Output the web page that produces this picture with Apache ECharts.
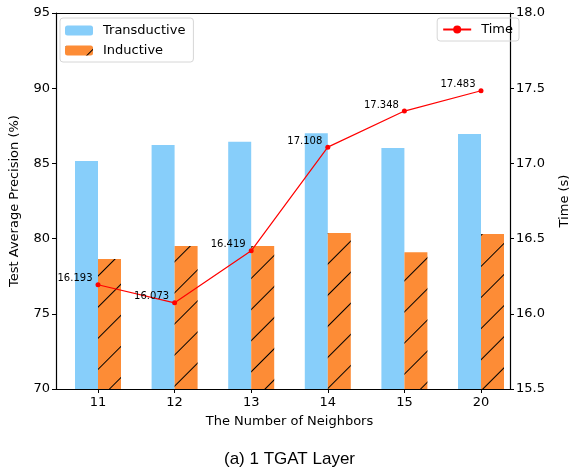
<!DOCTYPE html>
<html>
<head>
<meta charset="utf-8">
<script src="https://cdn.jsdelivr.net/npm/echarts@6/dist/echarts.min.js"></script>
<style>
  html, body { margin: 0; padding: 0; background: #fff; }
  #chart { width: 579px; height: 472px; }
</style>
</head>
<body>
<div id="chart"></div>
<script>
// values
var neighbors = ['11', '12', '13', '14', '15', '20'];
var transductive = [85.16, 86.22, 86.44, 87.0, 86.02, 86.95];
var inductive = [78.64, 79.51, 79.5, 80.37, 79.1, 80.3];
var timeSec = [16.193, 16.073, 16.419, 17.108, 17.348, 17.483];
var precTicks = [70, 95, 5];
var timeTicks = [15.5, 18.0, 0.5];

var FONT = 'DejaVu Sans';

var chart = echarts.init(document.getElementById('chart'), null, { renderer: 'canvas' });

var axisLine = { show: true, onZero: false, lineStyle: { color: '#000', width: 1.2 } };
var tick = { show: true, length: 4, lineStyle: { color: '#000', width: 1 } };
var noAxis = {
  axisLine: { show: false }, axisTick: { show: false },
  axisLabel: { show: false }, splitLine: { show: false }
};

var option = {
  animation: false,
  backgroundColor: '#fff',
  textStyle: { fontFamily: FONT },
  title: {
    text: '(a) 1 TGAT Layer',
    left: 'center',
    top: 446,
    textStyle: { fontFamily: 'Liberation Sans', fontSize: 17, fontWeight: 'normal', color: '#000' }
  },
  // grid 0 = frame and the value axes, grid 1 = the data (narrower so the groups sit like matplotlib's margins)
  grid: [
    { left: 52, right: 53, top: 13, bottom: 83 },
    { left: 59.7, right: 59.7, top: 13, bottom: 83 }
  ],
  legend: [{
    data: ['Transductive', 'Inductive'],
    orient: 'vertical',
    left: 60, top: 18,
    itemWidth: 28, itemHeight: 10, itemGap: 7,
    padding: [6, 8, 5, 5],
    borderColor: '#d6d6d6', borderWidth: 1, borderRadius: 3,
    textStyle: { fontFamily: FONT, fontSize: 13, color: '#000', padding: [0, 0, 0, 5] }
  }, {
    data: ['Time'],
    right: 60, top: 18,
    itemWidth: 28, itemHeight: 10,
    padding: [5, 6, 5, 5],
    borderColor: '#d6d6d6', borderWidth: 1, borderRadius: 3,
    textStyle: { fontFamily: FONT, fontSize: 13, color: '#000', padding: [0, 0, 0, 5] }
  }],
  xAxis: [{
    gridIndex: 0, type: 'value', position: 'bottom', min: 0, max: 1,
    axisLine: axisLine, axisTick: { show: false }, axisLabel: { show: false }, splitLine: { show: false }
  }, {
    gridIndex: 0, type: 'value', position: 'top', min: 0, max: 1,
    axisLine: axisLine, axisTick: { show: false }, axisLabel: { show: false }, splitLine: { show: false }
  }, {
    gridIndex: 1, type: 'category',
    data: neighbors,
    name: 'The Number of Neighbors',
    nameLocation: 'middle', nameGap: 26,
    nameTextStyle: { fontFamily: FONT, fontSize: 13, color: '#000' },
    axisLine: { show: false },
    axisTick: { show: true, alignWithLabel: true, length: 4, lineStyle: { color: '#000', width: 1 } },
    axisLabel: { margin: 7, fontFamily: FONT, fontSize: 13, color: '#000' },
    splitLine: { show: false }
  }],
  yAxis: [{
    gridIndex: 0, type: 'value',
    min: precTicks[0], max: precTicks[1], interval: precTicks[2],
    name: 'Test Average Precision (%)',
    nameLocation: 'middle', nameGap: 35,
    nameTextStyle: { fontFamily: FONT, fontSize: 13, color: '#000' },
    axisLine: axisLine,
    axisTick: tick,
    axisLabel: { margin: 6, fontFamily: FONT, fontSize: 13, color: '#000' },
    splitLine: { show: false }
  }, {
    gridIndex: 0, type: 'value', position: 'right',
    min: timeTicks[0], max: timeTicks[1], interval: timeTicks[2],
    name: 'Time (s)',
    nameLocation: 'middle', nameGap: 48,
    nameTextStyle: { fontFamily: FONT, fontSize: 13, color: '#000' },
    axisLine: axisLine,
    axisTick: tick,
    axisLabel: {
      margin: 6, fontFamily: FONT, fontSize: 13, color: '#000',
      formatter: function (v) { return v.toFixed(1); }
    },
    splitLine: { show: false }
  }, Object.assign({
    gridIndex: 1, type: 'value', position: 'left',
    min: precTicks[0], max: precTicks[1], interval: precTicks[2]
  }, noAxis), Object.assign({
    gridIndex: 1, type: 'value', position: 'right',
    min: timeTicks[0], max: timeTicks[1], interval: timeTicks[2]
  }, noAxis)],
  series: [{
    name: 'Transductive',
    type: 'bar',
    xAxisIndex: 2, yAxisIndex: 2,
    data: transductive,
    barWidth: 23,
    barGap: '0%',
    itemStyle: { color: '#87cefa' }
  }, {
    name: 'Inductive',
    type: 'bar',
    xAxisIndex: 2, yAxisIndex: 2,
    data: inductive,
    barWidth: 23,
    barGap: '0%',
    itemStyle: {
      color: '#fd8c36',
      decal: {
        symbol: 'rect',
        symbolSize: 1,
        color: '#000',
        dashArrayX: [1, 0],
        dashArrayY: [1, 21],
        rotation: -Math.PI / 4
      }
    }
  }, {
    name: 'Time',
    type: 'line',
    xAxisIndex: 2, yAxisIndex: 3,
    data: timeSec,
    symbol: 'circle',
    symbolSize: 5,
    z: 5,
    lineStyle: { color: '#ff0000', width: 1.2 },
    itemStyle: { color: '#ff0000' },
    label: {
      show: true,
      position: 'left',
      distance: 3,
      offset: [0, -6],
      fontFamily: FONT, fontSize: 10, color: '#000',
      formatter: function (p) { return p.value.toFixed(3); }
    }
  }]
};

chart.setOption(option);
</script>
</body>
</html>
